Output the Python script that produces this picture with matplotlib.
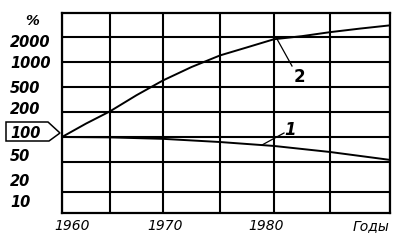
import numpy as np
import matplotlib.pyplot as plt
from matplotlib.patches import Polygon

W, H = 418, 245

# the original drawing uses evenly spaced gridlines for uneven values,
# so both axes get a piecewise scale (value -> position in the frame)
scale_pct = [10, 20, 50, 100, 200, 500, 1000, 2000, 4000]
scale_pos = [0, 21, 51, 76, 101, 126, 151, 176, 200]
scale_years = [1960, 1965, 1970, 1975, 1980, 1985, 1990]
scale_xpos = [0, 48, 101, 158, 212, 268, 328]

# curve 2 (rising) and curve 1 (falling), percent of 1960
years_2 = [1960, 1962.5, 1965, 1967.5, 1970, 1972.5, 1975, 1977.5, 1980, 1982.5, 1985, 1987.5, 1990]
pct_2 = [100, 145, 205, 370, 600, 870, 1200, 1500, 1880, 2050, 2300, 2550, 2800]
years_1 = [1960, 1965, 1970, 1975, 1980, 1985, 1990]
pct_1 = [100, 99, 95, 87, 78, 66, 53]

grid_pct = [20, 50, 100, 200, 500, 1000, 2000]
y_labels = ['2000', '1000', '500', '200', '100', '50', '20', '10']
x_labels = ['1960', '1970', '1980', 'Годы']


def y_fwd(v):
    v = np.clip(np.asarray(v, dtype=float), 1e-9, None)
    return np.interp(np.log10(v), np.log10(scale_pct), scale_pos)


def y_inv(p):
    return 10 ** np.interp(p, scale_pos, np.log10(scale_pct))


def x_fwd(v):
    return np.interp(v, scale_years, scale_xpos)


def x_inv(p):
    return np.interp(p, scale_xpos, scale_years)


def px(x, y):
    # pixel position of the 418x245 picture -> figure fraction
    return x / W, 1 - y / H


plt.rcParams['font.family'] = 'DejaVu Sans'

fig = plt.figure(figsize=(W / 100, H / 100), dpi=100)
ax = fig.add_axes([62 / W, 1 - 213 / H, 328 / W, 200 / H])
ax.set_xscale('function', functions=(x_fwd, x_inv))
ax.set_yscale('function', functions=(y_fwd, y_inv))
ax.set_xlim(1960, 1990)
ax.set_ylim(10, 4000)

ax.set_xticks(scale_years)
ax.set_yticks(grid_pct)
ax.set_xticklabels([])
ax.set_yticklabels([])
ax.minorticks_off()
ax.tick_params(length=0)
ax.grid(True, color='black', lw=1.5)
for s in ax.spines.values():
    s.set_linewidth(1.6)

ax.plot(years_2, pct_2, color='black', lw=1.4)
ax.plot(years_1, pct_1, color='black', lw=1.4)

# leader lines to the curve numbers
fig.add_artist(plt.Line2D(*zip(px(277, 39), px(292, 66)), color='black', lw=0.9))
fig.add_artist(plt.Line2D(*zip(px(262, 145), px(284, 133)), color='black', lw=0.9))
fig.text(*px(299, 82), '2', fontsize=12, fontweight='bold', ha='center', va='baseline')
fig.text(*px(290, 135), '1', fontsize=12, fontweight='bold', fontstyle='oblique',
         ha='center', va='baseline')

# y labels
ylab_base = [47, 68, 93, 114, 138, 161, 186, 207]
for lab, yb in zip(y_labels, ylab_base):
    fig.text(*px(10, yb), lab, fontsize=10.5, fontweight='bold', fontstyle='oblique',
             ha='left', va='baseline')
fig.text(*px(32, 25), '%', fontsize=10, fontweight='bold', fontstyle='oblique',
         ha='center', va='baseline')

# arrow-shaped frame round the 100 label
box = [px(6, 122), px(48, 122), px(60, 133), px(49, 141), px(6, 141)]
fig.add_artist(Polygon(box, closed=True, fill=False, edgecolor='black', lw=1.1,
                       transform=fig.transFigure))

# x labels
xlab_center = [72, 165, 266, 371]
for lab, xc in zip(x_labels, xlab_center):
    fig.text(*px(xc, 230), lab, fontsize=10, fontstyle='oblique', ha='center', va='baseline')

fig.savefig('out.png', dpi=100)
